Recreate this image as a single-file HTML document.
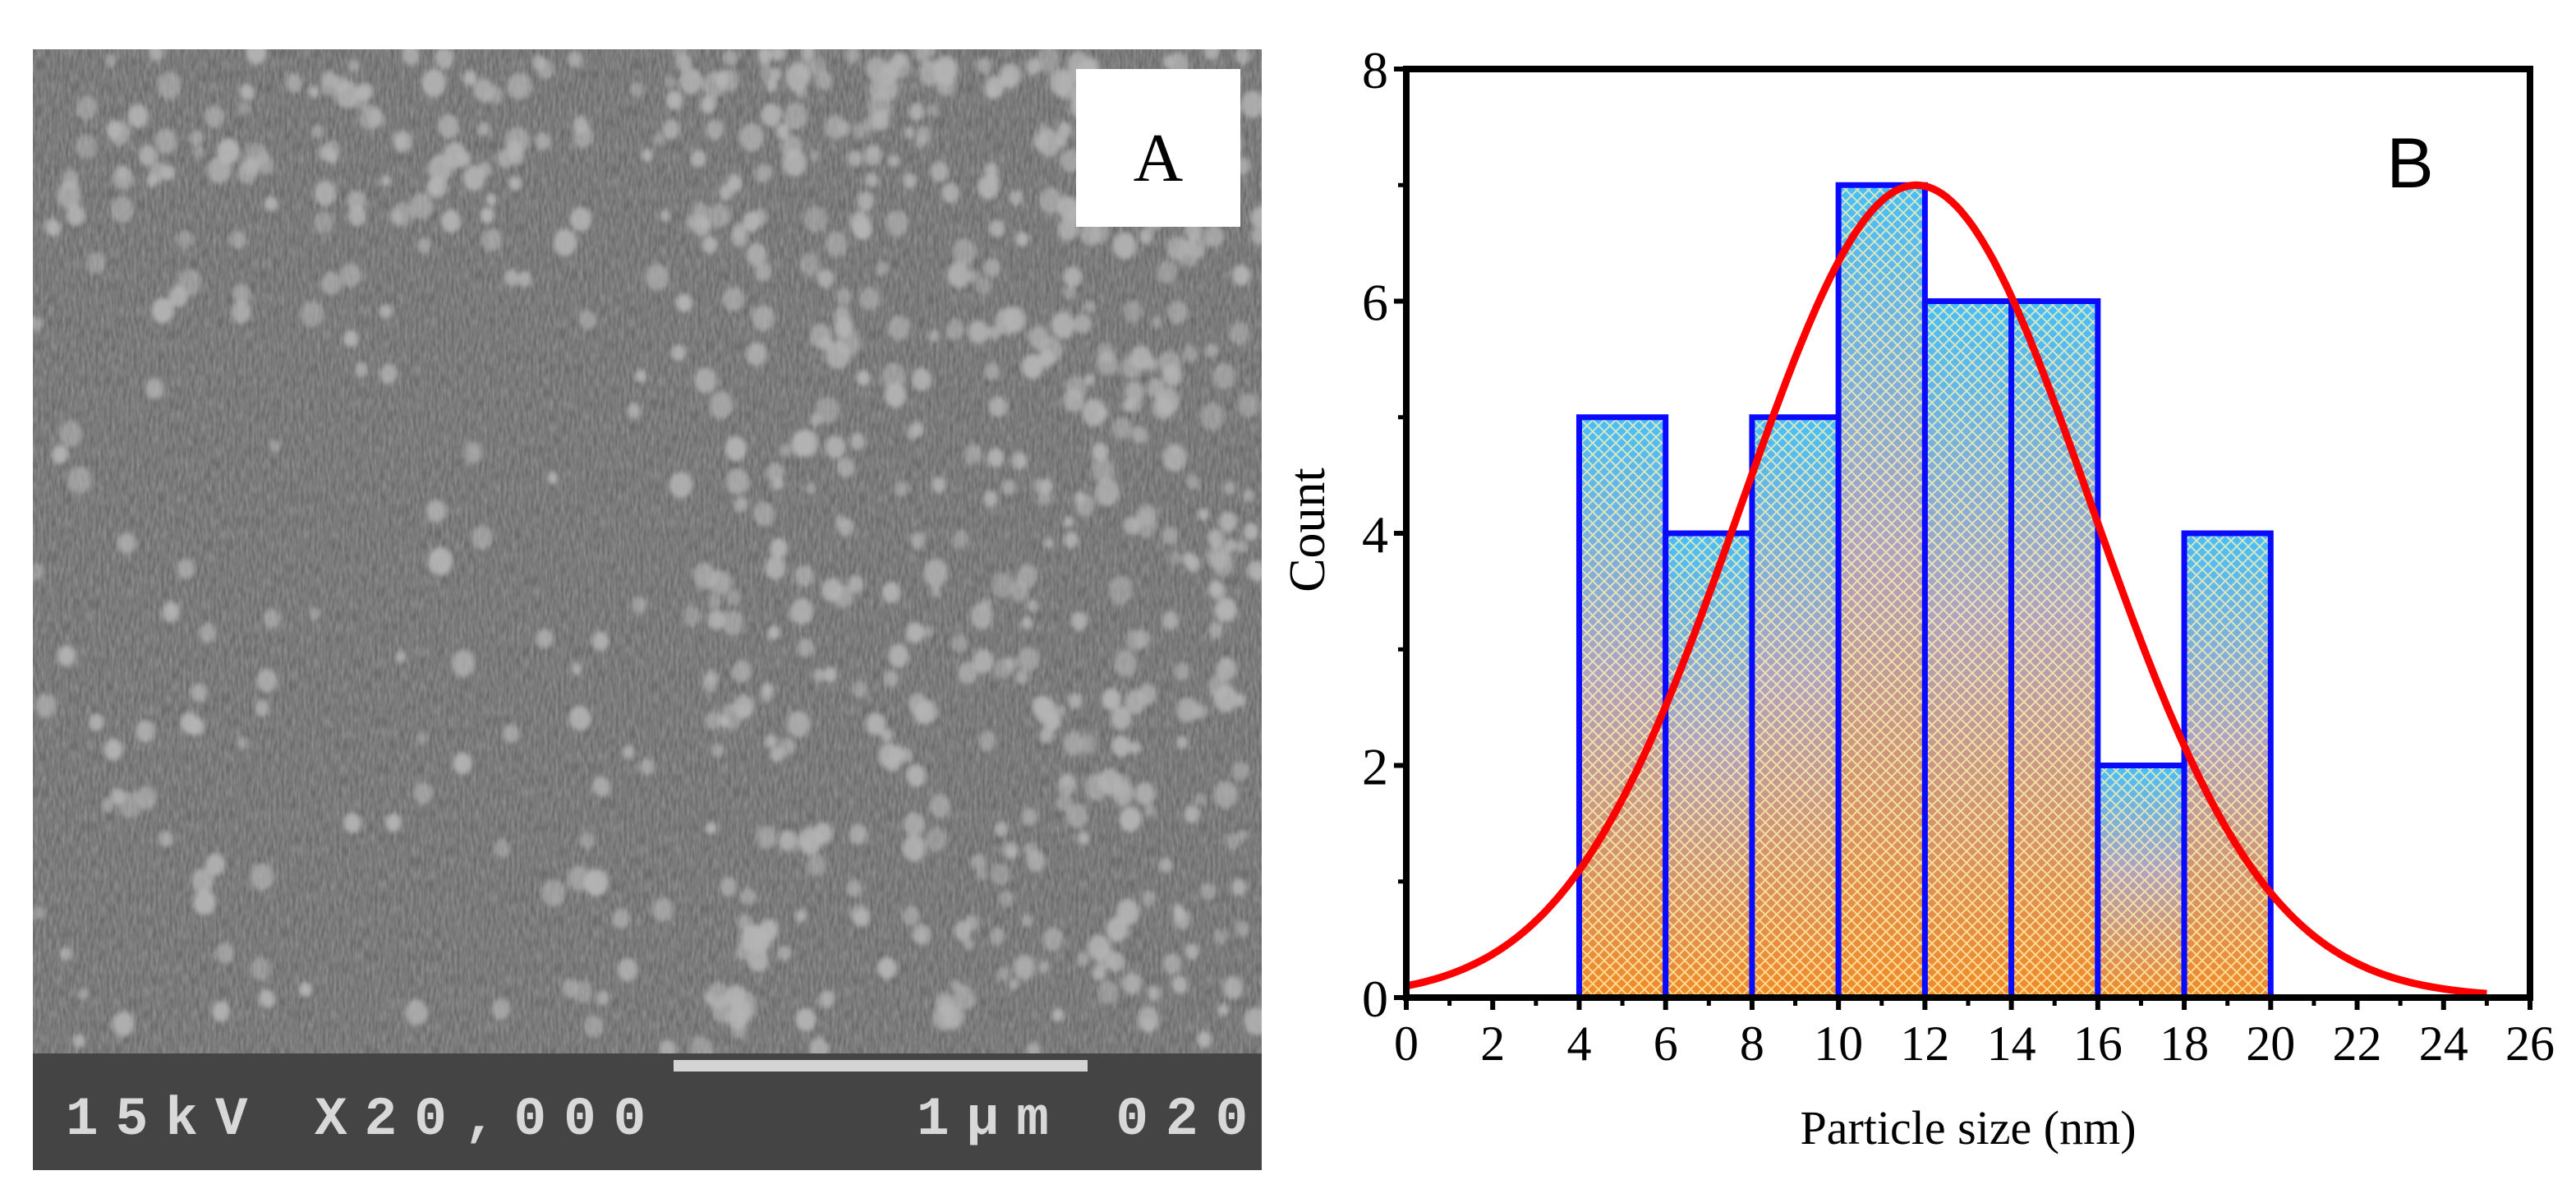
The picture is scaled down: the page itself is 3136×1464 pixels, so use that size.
<!DOCTYPE html>
<html><head><meta charset="utf-8"><style>
html,body{margin:0;padding:0;background:#fff;}
svg{display:block}
</style></head><body>
<svg id="fig" width="3136" height="1464" viewBox="0 0 3136 1464" xmlns="http://www.w3.org/2000/svg">
<defs>
  <filter id="noise" x="0" y="0" width="100%" height="100%">
    <feTurbulence type="fractalNoise" baseFrequency="0.3 0.07" numOctaves="2" seed="4"/>
    <feColorMatrix type="matrix" values="0 0 0 0 0.36  0 0 0 0 0.36  0 0 0 0 0.36  1.0 0 0 0 -0.2"/>
  </filter>
  <filter id="blur"><feGaussianBlur stdDeviation="3"/></filter>
  <linearGradient id="barGrad" x1="0" y1="0" x2="0" y2="1">
    <stop offset="0" stop-color="#48bef8"/>
    <stop offset="0.45" stop-color="#b0a2c0"/>
    <stop offset="1" stop-color="#f28a28"/>
  </linearGradient>
  <pattern id="hatch" patternUnits="userSpaceOnUse" width="14" height="14">
    <path d="M0,0 L14,14 M14,0 L0,14" stroke="#fff6b0" stroke-width="2" opacity="0.75"/>
  </pattern>
  <clipPath id="semclip"><rect x="40" y="60" width="1496" height="1222"/></clipPath>
</defs>

<g>
  <rect x="40" y="60" width="1496" height="1364" fill="#6a6a6a"/>
  <g clip-path="url(#semclip)">
    <rect x="40" y="60" width="1496" height="1222" fill="#6c6c6c" filter="url(#noise)"/>
    <g id="particles" fill="#b4b4b4" filter="url(#blur)"></g>
  </g>
  <rect x="40" y="1282" width="1496" height="142" fill="#444"/>
  <rect x="820" y="1290" width="504" height="14" fill="#d4d4d4"/>
  <text x="80" y="1380" font-family="Liberation Mono, monospace" font-size="66" font-weight="bold" fill="#d8d8d8" letter-spacing="21">15kV X20,000</text>
  <text x="1116" y="1380" font-family="Liberation Mono, monospace" font-size="66" font-weight="bold" fill="#d8d8d8" letter-spacing="21">1μm 020</text>
  <rect x="1310" y="84" width="200" height="192" fill="#fff"/>
  <text x="1410" y="220" text-anchor="middle" font-family="Liberation Serif, serif" font-size="84" fill="#000">A</text>
</g>

<g id="chart"></g>
</svg>
<script>
// ---- chart data ----
const binStarts = [4, 6, 8, 10, 12, 14, 16, 18];
const binWidth = 2;
const counts = [5, 4, 5, 7, 6, 6, 2, 4];
const xTicks = [0,2,4,6,8,10,12,14,16,18,20,22,24,26];
const yTicks = [0,2,4,6,8];
const fitParams = [7.0, 11.8, 4.05]; // amplitude, center, sigma
const fitRange = [0, 25];

const NS = 'http://www.w3.org/2000/svg';
const X0 = 1712, X1 = 3080, Y0 = 1214, Y1 = 84;
const xMin = 0, xMax = 26, yMin = 0, yMax = 8;
function sx(v){ return X0 + (v - xMin) / (xMax - xMin) * (X1 - X0); }
function sy(v){ return Y0 - (v - yMin) / (yMax - yMin) * (Y0 - Y1); }
function mk(tag, attrs, parent){
  const e = document.createElementNS(NS, tag);
  for (const k in attrs) e.setAttribute(k, attrs[k]);
  parent.appendChild(e);
  return e;
}
const chart = document.getElementById('chart');

binStarts.forEach((b, i) => {
  const x = sx(b), w = sx(b + binWidth) - sx(b), y = sy(counts[i]), h = sy(0) - sy(counts[i]);
  const g = mk('g', {}, chart);
  
  
  mk('rect', {x: x, y: y, width: w, height: h, fill: 'url(#barGrad)'}, g);
  mk('rect', {x: x, y: y, width: w, height: h, fill: 'url(#hatch)'}, g);
  mk('rect', {x: x, y: y, width: w, height: h, fill: 'none', stroke: '#0a0aff', 'stroke-width': 7}, g);
});

let d = '';
for (let k = 0; k <= 250; k++) {
  const xv = fitRange[0] + (fitRange[1] - fitRange[0]) * k / 250;
  const yv = fitParams[0] * Math.exp(-Math.pow(xv - fitParams[1], 2) / (2 * fitParams[2] * fitParams[2]));
  d += (k ? 'L' : 'M') + sx(xv).toFixed(1) + ',' + sy(yv).toFixed(1);
}
const curve = mk('path', {d: d, fill: 'none', stroke: '#ff0000', 'stroke-width': 9, 'stroke-linejoin': 'round'}, chart);



const frame = mk('rect', {x: X0, y: Y1, width: X1 - X0, height: Y0 - Y1, fill: 'none', stroke: '#000', 'stroke-width': 8}, chart);



xTicks.forEach(t => {
  const tk = mk('line', {x1: sx(t), x2: sx(t), y1: Y0, y2: Y0 + 15, stroke: '#000', 'stroke-width': 6}, chart);
  
  
  const lb = mk('text', {x: sx(t), y: Y0 + 76, 'text-anchor': 'middle', 'font-family': 'Liberation Serif, serif', 'font-size': 60}, chart);
  lb.textContent = t;
  
  
  if (t < xMax) {
    const m = mk('line', {x1: sx(t + 1), x2: sx(t + 1), y1: Y0, y2: Y0 + 10, stroke: '#000', 'stroke-width': 5}, chart);
    
    
  }
});
yTicks.forEach(t => {
  const tk = mk('line', {x1: X0 - 15, x2: X0, y1: sy(t), y2: sy(t), stroke: '#000', 'stroke-width': 6}, chart);
  
  
  const lb = mk('text', {x: X0 - 22, y: sy(t) + 23, 'text-anchor': 'end', 'font-family': 'Liberation Serif, serif', 'font-size': 64}, chart);
  lb.textContent = t;
  
  
  if (t < yMax) {
    const m = mk('line', {x1: X0 - 10, x2: X0, y1: sy(t + 1), y2: sy(t + 1), stroke: '#000', 'stroke-width': 5}, chart);
    
    
  }
});
const xt = mk('text', {x: (X0 + X1) / 2, y: 1392, 'text-anchor': 'middle', 'font-family': 'Liberation Serif, serif', 'font-size': 58}, chart);
xt.textContent = 'Particle size (nm)';


const yt = mk('text', {x: 0, y: 0, 'text-anchor': 'middle', 'font-family': 'Liberation Serif, serif', 'font-size': 62, transform: 'translate(1612,645) rotate(-90)'}, chart);
yt.textContent = 'Count';


const bl = mk('text', {x: 2934, y: 228, 'text-anchor': 'middle', 'font-family': 'Liberation Sans, sans-serif', 'font-size': 86}, chart);
bl.textContent = 'B';



// SEM decorative particles (texture only, deterministic)
let seed = 12345;
function rnd(){ seed = (seed * 1103515245 + 12345) % 2147483648; return seed / 2147483648; }
const pg = document.getElementById('particles');
for (let i = 0; i < 1400; i++) {
  const px = 40 + rnd() * 1496, py = 60 + rnd() * 1222;
  const fx = (px - 40) / 1496, fy = (py - 60) / 1222;
  let dens = 0.2 + (fx > 0.55 ? 0.55 : 0) + (fy < 0.18 ? 0.55 : 0) - (fx > 0.2 && fx < 0.5 && fy > 0.25 ? 0.08 : 0);
  if (rnd() > dens) continue;
  const r = 6 + rnd() * 9;
  mk('ellipse', {cx: px.toFixed(0), cy: py.toFixed(0), rx: r.toFixed(1), ry: (r * 1.15).toFixed(1), opacity: (0.55 + rnd() * 0.4).toFixed(2)}, pg);
}
</script>
</body></html>
